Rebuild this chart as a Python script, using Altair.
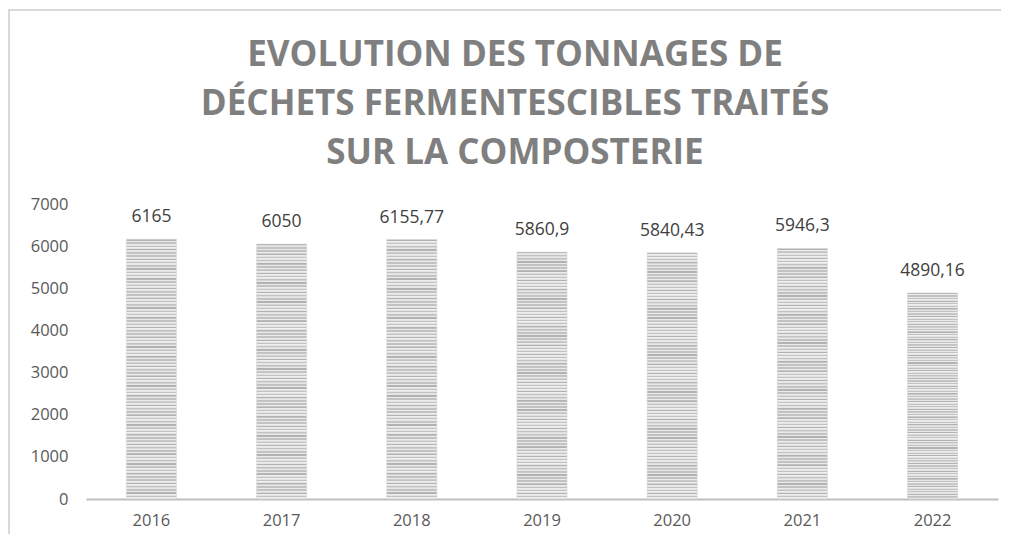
import altair as alt
import pandas as pd

years = ["2016", "2017", "2018", "2019", "2020", "2021", "2022"]
tonnages = [6165, 6050, 6155.77, 5860.9, 5840.43, 5946.3, 4890.16]
labels = ["6165", "6050", "6155,77", "5860,9", "5840,43", "5946,3", "4890,16"]
title_lines = ["EVOLUTION DES TONNAGES DE", "DÉCHETS FERMENTESCIBLES TRAITÉS", "SUR LA COMPOSTERIE"]

df = pd.DataFrame({"annee": years, "tonnage": tonnages, "label": labels})

# striped grey fill (horizontal lines) as a vertical gradient
stops = []
n = 80
for i in range(n):
    c1 = "#c2c2c2" if i % 3 else "#b2b2b2"
    stops.append(alt.GradientStop(offset=i / n, color=c1))
    stops.append(alt.GradientStop(offset=(i + 0.4) / n, color=c1))
    stops.append(alt.GradientStop(offset=(i + 0.5) / n, color="#f0f0f0"))
    stops.append(alt.GradientStop(offset=(i + 0.95) / n, color="#e2e2e2"))
stripes = alt.Gradient(gradient="linear", x1=0, y1=0, x2=0, y2=1, stops=stops)

x_enc = alt.X(
    "annee:N",
    sort=years,
    title=None,
    scale=alt.Scale(paddingInner=0.615, paddingOuter=0.31),
    axis=alt.Axis(
        labelAngle=0, labelFont="Open Sans", labelFontSize=16.5, labelColor="#595959",
        labelPadding=13, ticks=False, domainColor="#bfbfbf", domainWidth=2,
    ),
)
y_enc = alt.Y(
    "tonnage:Q",
    title=None,
    scale=alt.Scale(domain=[0, 7000], nice=False),
    axis=alt.Axis(
        values=[0, 1000, 2000, 3000, 4000, 5000, 6000, 7000], format="d",
        labelFont="Open Sans", labelFontSize=16.5, labelColor="#595959",
        labelPadding=18, ticks=False, domain=False, grid=False,
    ),
)

bars = alt.Chart(df).mark_bar(color=stripes, stroke="#d4d4d4", strokeWidth=0.5).encode(x=x_enc, y=y_enc)
text = alt.Chart(df).mark_text(
    font="Open Sans", fontSize=17.5, color="#404040", baseline="middle", dy=-22
).encode(x=alt.X("annee:N", sort=years), y="tonnage:Q", text="label:N")

border = alt.Chart(pd.DataFrame({"a": [0]})).mark_rect(
    fill=None, stroke="#d9d9d9", strokeWidth=2, clip=False
).encode(x=alt.value(-77), x2=alt.value(930), y=alt.value(-194), y2=alt.value(340))

title = alt.Chart(pd.DataFrame({"a": [0]})).mark_text(
    text=title_lines, font="Open Sans", fontSize=35, fontWeight="bold",
    color="#7f7f7f", lineHeight=49, align="center", baseline="alphabetic",
).encode(x=alt.value(429), y=alt.value(-138))

chart = alt.layer(border, title, bars, text).properties(
    width=912,
    height=295,
    autosize=alt.AutoSizeParams(type="none"),
    padding={"left": 78, "top": 196, "right": 3, "bottom": 35},
).configure(background="white").configure_view(stroke=None)

chart.save("out.html", embed_options={"renderer": "svg", "actions": False})
